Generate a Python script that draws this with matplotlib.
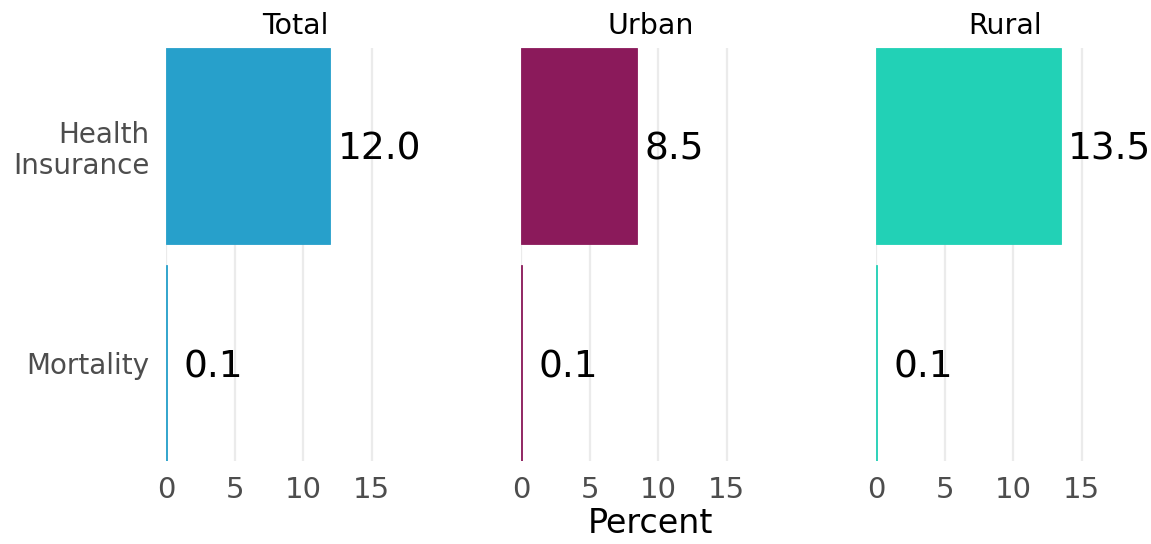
import matplotlib
matplotlib.use("Agg")
import matplotlib.pyplot as plt
from matplotlib.transforms import offset_copy

plt.rcParams['font.family'] = ['DejaVu Sans']

panels = ["Total", "Urban", "Rural"]
categories = ["Health\nInsurance", "Mortality"]
values = {
    "Total": [12.0, 0.1],
    "Urban": [8.5, 0.1],
    "Rural": [13.5, 0.1],
}
colors = {"Total": "#27A0CB", "Urban": "#8B1A5B", "Rural": "#22D1B6"}
xticks = [0, 5, 10, 15]
xmax = 18.9

W, H = 1151, 544
fig = plt.figure(figsize=(W / 100, H / 100), dpi=100)

lefts = [166, 521, 876]
pw = 259
top, bottom = 48, 461

for i, (name, left) in enumerate(zip(panels, lefts)):
    ax = fig.add_axes([left / W, (H - bottom) / H, pw / W, (bottom - top) / H])
    ypos = list(range(len(categories)))
    vals = values[name]
    ax.barh(ypos, vals, height=0.9, color=colors[name], edgecolor=colors[name],
            linewidth=0.6, zorder=2)
    ax.set_ylim(len(categories) - 0.55, -0.45)
    ax.set_xlim(0, xmax)
    ax.set_xticks(xticks)
    ax.set_xticklabels([str(t) for t in xticks])
    for t in xticks:
        ax.axvline(t, color="#EBEBEB", lw=1.6, zorder=1)
    for s in ax.spines.values():
        s.set_visible(False)
    ax.tick_params(axis='x', length=0, pad=11, labelsize=21, labelcolor="#4D4D4D")
    ax.tick_params(axis='y', length=0, pad=12, labelsize=20, labelcolor="#4D4D4D")
    if i == 0:
        ax.set_yticks(ypos)
        ax.set_yticklabels(categories, linespacing=1.15)
        for lab in ax.get_yticklabels():
            lab.set_horizontalalignment('right')
    else:
        ax.set_yticks([])
    for y, v in zip(ypos, vals):
        off = 7 if v >= 1 else 16
        tr = offset_copy(ax.transData, fig=fig, x=off, y=-14, units='dots')
        ax.text(v, y, f"{v:.1f}", transform=tr, ha='left', va='baseline',
                fontsize=27, color="black", clip_on=False)
    ax.set_title(name, fontsize=20.5, color="black", pad=10)
    if i == 1:
        ax.set_xlabel("Percent", fontsize=24, color="black", labelpad=2)

fig.savefig("out.png", dpi=100)
